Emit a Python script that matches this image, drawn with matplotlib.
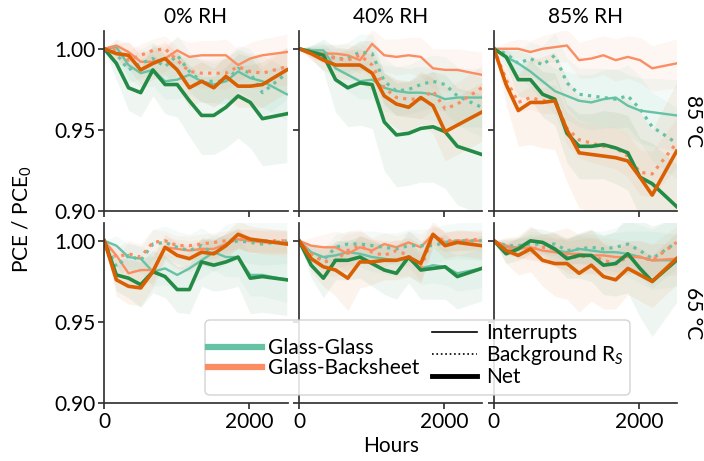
import matplotlib
import matplotlib.pyplot as plt
from matplotlib.lines import Line2D
from matplotlib.patches import FancyBboxPatch

matplotlib.use('agg')

FS = 15
plt.rcParams['font.family'] = ['Lato', 'DejaVu Sans']
plt.rcParams['font.size'] = FS
plt.rcParams['mathtext.fontset'] = 'custom'
plt.rcParams['mathtext.rm'] = 'Lato'
plt.rcParams['mathtext.it'] = 'Lato:italic'

HOURS = [0, 168, 336, 504, 672, 840, 1008, 1176, 1344, 1512, 1680, 1848, 2016, 2184, 2520]
HUMIDITY = ['0% RH', '40% RH', '85% RH']
TEMPERATURE = ['85 °C', '65 °C']

# --- 85 °C, 0% RH ---
gg_int_85_0 = [1.000, 1.001, 0.990, 0.985, 0.987, 0.980, 0.981, 0.984, 0.980, 0.978, 0.980, 0.986, 0.982, 0.980, 0.972]
gg_bg_85_0 = [1.000, 0.997, 0.987, 0.991, 0.994, 0.989, 0.996, 0.986, 0.980, 0.980, 0.980, 0.988, 0.985, 0.973, 0.985]
gg_net_85_0 = [1.000, 0.991, 0.976, 0.973, 0.987, 0.978, 0.978, 0.968, 0.959, 0.959, 0.964, 0.971, 0.967, 0.957, 0.960]
gb_int_85_0 = [1.000, 1.002, 0.998, 0.992, 0.992, 0.994, 0.999, 0.995, 0.996, 0.996, 0.996, 0.990, 0.994, 0.996, 0.998]
gb_bg_85_0 = [1.000, 0.999, 0.993, 0.996, 0.999, 1.000, 0.993, 0.986, 0.985, 0.985, 0.985, 0.989, 0.986, 0.985, 0.989]
gb_net_85_0 = [1.000, 0.997, 0.996, 0.987, 0.991, 0.994, 0.987, 0.976, 0.980, 0.976, 0.983, 0.977, 0.977, 0.978, 0.987]

# --- 85 °C, 40% RH ---
gg_int_85_40 = [1.000, 0.999, 0.999, 0.988, 0.984, 0.980, 0.981, 0.976, 0.974, 0.973, 0.973, 0.972, 0.969, 0.970, 0.970]
gg_bg_85_40 = [1.000, 0.999, 0.998, 0.994, 0.994, 0.998, 0.997, 0.980, 0.974, 0.975, 0.978, 0.980, 0.978, 0.971, 0.964]
gg_net_85_40 = [1.000, 0.998, 0.996, 0.981, 0.976, 0.979, 0.978, 0.955, 0.947, 0.948, 0.951, 0.952, 0.949, 0.940, 0.935]
gb_int_85_40 = [1.000, 0.998, 0.997, 0.997, 0.996, 0.993, 1.003, 0.996, 0.995, 0.996, 0.995, 0.988, 0.987, 0.987, 0.984]
gb_bg_85_40 = [1.000, 0.998, 0.996, 0.994, 0.993, 0.996, 0.990, 0.976, 0.970, 0.969, 0.969, 0.974, 0.963, 0.966, 0.976]
gb_net_85_40 = [1.000, 0.997, 0.993, 0.990, 0.990, 0.990, 0.985, 0.971, 0.966, 0.964, 0.970, 0.965, 0.949, 0.953, 0.961]

# --- 85 °C, 85% RH ---
gg_int_85_85 = [1.000, 0.995, 0.991, 0.986, 0.980, 0.974, 0.971, 0.968, 0.967, 0.969, 0.970, 0.965, 0.962, 0.961, 0.959]
gg_bg_85_85 = [1.000, 0.997, 0.991, 0.994, 0.990, 0.996, 0.979, 0.972, 0.971, 0.970, 0.969, 0.971, 0.963, 0.952, 0.942]
gg_net_85_85 = [1.000, 0.995, 0.981, 0.981, 0.972, 0.969, 0.948, 0.940, 0.940, 0.941, 0.939, 0.936, 0.921, 0.917, 0.903]
gb_int_85_85 = [1.000, 1.000, 1.000, 0.998, 1.000, 1.001, 1.002, 0.993, 0.994, 0.996, 0.993, 0.995, 0.993, 0.988, 0.991]
gb_bg_85_85 = [1.000, 0.981, 0.967, 0.970, 0.968, 0.969, 0.951, 0.944, 0.942, 0.940, 0.939, 0.934, 0.924, 0.923, 0.942]
gb_net_85_85 = [1.000, 0.978, 0.962, 0.967, 0.967, 0.968, 0.950, 0.936, 0.935, 0.934, 0.933, 0.931, 0.921, 0.910, 0.937]

# --- 65 °C, 0% RH ---
gg_int_65_0 = [1.000, 0.997, 0.990, 0.989, 0.981, 0.983, 0.979, 0.983, 0.988, 0.993, 0.990, 0.990, 0.979, 0.979, 0.976]
gg_bg_65_0 = [1.000, 0.984, 0.991, 0.988, 0.998, 0.999, 0.996, 0.994, 0.997, 0.992, 0.998, 1.000, 0.999, 0.998, 1.000]
gg_net_65_0 = [1.000, 0.979, 0.977, 0.973, 0.981, 0.978, 0.970, 0.970, 0.987, 0.985, 0.987, 0.990, 0.977, 0.978, 0.976]
gb_int_65_0 = [1.000, 0.991, 0.980, 0.982, 0.982, 0.996, 0.995, 0.994, 0.995, 0.995, 0.998, 1.001, 1.000, 0.999, 0.999]
gb_bg_65_0 = [1.000, 0.990, 0.992, 0.990, 0.999, 1.000, 0.997, 0.997, 0.998, 0.999, 1.000, 1.001, 1.000, 1.000, 1.000]
gb_net_65_0 = [1.000, 0.976, 0.972, 0.971, 0.981, 0.996, 0.991, 0.989, 0.993, 0.992, 0.997, 1.004, 1.001, 1.000, 0.998]

# --- 65 °C, 40% RH ---
gg_int_65_40 = [1.000, 0.993, 0.990, 0.991, 0.993, 0.992, 0.990, 0.989, 0.988, 0.989, 0.983, 0.985, 0.984, 0.980, 0.983]
gg_bg_65_40 = [1.000, 0.992, 0.988, 0.996, 0.998, 0.998, 0.997, 0.996, 0.995, 0.997, 0.997, 0.997, 0.999, 1.000, 1.000]
gg_net_65_40 = [1.000, 0.985, 0.977, 0.988, 0.988, 0.990, 0.986, 0.982, 0.980, 0.990, 0.982, 0.983, 0.984, 0.978, 0.983]
gb_int_65_40 = [1.000, 0.997, 0.996, 0.996, 0.992, 0.996, 0.994, 0.998, 0.996, 0.999, 0.996, 1.004, 0.999, 1.000, 1.000]
gb_bg_65_40 = [1.000, 0.992, 0.987, 0.988, 0.994, 0.997, 0.993, 0.991, 0.994, 0.991, 0.983, 1.003, 1.000, 1.000, 1.001]
gb_net_65_40 = [1.000, 0.989, 0.984, 0.982, 0.977, 0.987, 0.987, 0.988, 0.988, 0.990, 0.986, 1.004, 0.997, 0.999, 0.997]

# --- 65 °C, 85% RH ---
gg_int_65_85 = [1.000, 0.996, 0.996, 1.000, 0.999, 0.994, 0.993, 0.995, 0.994, 0.993, 0.993, 0.992, 0.990, 0.988, 0.988]
gg_bg_65_85 = [1.000, 0.997, 0.997, 0.998, 0.998, 0.998, 0.994, 0.995, 0.996, 0.995, 0.996, 0.998, 0.994, 0.989, 0.999]
gg_net_65_85 = [1.000, 0.992, 0.995, 1.000, 0.999, 0.995, 0.989, 0.991, 0.991, 0.985, 0.986, 0.992, 0.983, 0.975, 0.988]
gb_int_65_85 = [1.000, 0.997, 0.995, 0.996, 0.994, 0.993, 0.992, 0.992, 0.991, 0.991, 0.990, 0.990, 0.990, 0.988, 0.989]
gb_bg_65_85 = [1.000, 0.995, 0.996, 0.995, 0.996, 0.995, 0.990, 0.990, 0.991, 0.988, 0.986, 0.990, 0.990, 0.988, 0.999]
gb_net_65_85 = [1.000, 0.994, 0.991, 0.995, 0.988, 0.986, 0.986, 0.980, 0.985, 0.978, 0.976, 0.983, 0.979, 0.975, 0.989]

# spread between modules (half width of the shaded bands)
gg_net_sd_85_0 = [0, .010, .014, .015, .016, .018, .020, .022, .024, .024, .025, .026, .028, .029, .030]
gb_net_sd_85_0 = [0, .006, .008, .009, .010, .010, .011, .012, .012, .012, .013, .013, .013, .014, .014]
gg_sd_85_0 = [0, .005, .008, .009, .010, .011, .012, .012, .013, .013, .014, .014, .015, .016, .016]
gb_sd_85_0 = [0, .004, .006, .007, .007, .008, .008, .009, .009, .009, .010, .010, .010, .010, .011]

gg_net_sd_85_40 = [0, .004, .010, .020, .024, .026, .027, .030, .032, .032, .033, .034, .035, .036, .037]
gb_net_sd_85_40 = [0, .004, .006, .008, .009, .010, .011, .014, .015, .016, .016, .017, .018, .018, .018]
gg_sd_85_40 = [0, .003, .005, .008, .010, .011, .012, .014, .015, .015, .016, .016, .017, .018, .018]
gb_sd_85_40 = [0, .003, .005, .006, .007, .008, .009, .010, .011, .011, .012, .012, .013, .013, .014]

gg_net_sd_85_85 = [0, .006, .010, .012, .014, .016, .018, .020, .020, .021, .022, .023, .024, .025, .026]
gb_net_sd_85_85 = [0, .012, .022, .026, .028, .030, .032, .034, .035, .036, .037, .038, .040, .040, .042]
gg_sd_85_85 = [0, .004, .008, .010, .012, .014, .015, .016, .017, .018, .018, .019, .020, .021, .022]
gb_sd_85_85 = [0, .004, .006, .007, .008, .009, .010, .011, .012, .012, .013, .013, .014, .014, .015]

gg_net_sd_65_0 = [0, .010, .012, .014, .013, .013, .014, .015, .015, .016, .017, .018, .022, .022, .022]
gb_net_sd_65_0 = [0, .010, .011, .011, .010, .008, .008, .008, .008, .008, .008, .008, .008, .008, .008]
gg_sd_65_0 = [0, .006, .008, .008, .009, .010, .010, .010, .011, .011, .012, .012, .013, .013, .014]
gb_sd_65_0 = [0, .006, .008, .008, .008, .006, .006, .006, .006, .006, .006, .006, .007, .007, .007]

gg_net_sd_65_40 = [0, .008, .012, .012, .012, .013, .014, .015, .016, .016, .018, .019, .020, .020, .020]
gb_net_sd_65_40 = [0, .008, .012, .016, .020, .016, .014, .012, .012, .012, .012, .008, .008, .008, .008]
gg_sd_65_40 = [0, .005, .007, .008, .008, .008, .009, .009, .010, .010, .010, .011, .011, .011, .012]
gb_sd_65_40 = [0, .005, .008, .010, .012, .010, .008, .007, .007, .007, .008, .006, .006, .006, .006]

gg_net_sd_65_85 = [0, .006, .007, .008, .008, .010, .012, .014, .016, .018, .020, .024, .030, .034, .026]
gb_net_sd_65_85 = [0, .008, .012, .014, .016, .020, .022, .024, .022, .020, .018, .016, .016, .016, .016]
gg_sd_65_85 = [0, .004, .005, .006, .006, .007, .008, .009, .010, .011, .012, .014, .016, .018, .016]
gb_sd_65_85 = [0, .004, .006, .007, .008, .009, .010, .011, .011, .011, .011, .010, .010, .010, .010]

GG_LIGHT, GG_DARK = '#66c2a5', '#238b45'
GB_LIGHT, GB_DARK = '#fc8d62', '#d95f02'


def cell(gg_int, gg_bg, gg_net, gb_int, gb_bg, gb_net, gg_sd, gb_sd, gg_net_sd, gb_net_sd):
    """Series of one panel as (values, spread, colour, kind)."""
    return [
        (gg_int, gg_sd, GG_LIGHT, 'int'), (gb_int, gb_sd, GB_LIGHT, 'int'),
        (gg_bg, gg_sd, GG_LIGHT, 'bg'), (gb_bg, gb_sd, GB_LIGHT, 'bg'),
        (gg_net, gg_net_sd, GG_DARK, 'net'), (gb_net, gb_net_sd, GB_DARK, 'net'),
    ]


# rows: temperature, columns: humidity
panels = [
    [cell(gg_int_85_0, gg_bg_85_0, gg_net_85_0, gb_int_85_0, gb_bg_85_0, gb_net_85_0,
          gg_sd_85_0, gb_sd_85_0, gg_net_sd_85_0, gb_net_sd_85_0),
     cell(gg_int_85_40, gg_bg_85_40, gg_net_85_40, gb_int_85_40, gb_bg_85_40, gb_net_85_40,
          gg_sd_85_40, gb_sd_85_40, gg_net_sd_85_40, gb_net_sd_85_40),
     cell(gg_int_85_85, gg_bg_85_85, gg_net_85_85, gb_int_85_85, gb_bg_85_85, gb_net_85_85,
          gg_sd_85_85, gb_sd_85_85, gg_net_sd_85_85, gb_net_sd_85_85)],
    [cell(gg_int_65_0, gg_bg_65_0, gg_net_65_0, gb_int_65_0, gb_bg_65_0, gb_net_65_0,
          gg_sd_65_0, gb_sd_65_0, gg_net_sd_65_0, gb_net_sd_65_0),
     cell(gg_int_65_40, gg_bg_65_40, gg_net_65_40, gb_int_65_40, gb_bg_65_40, gb_net_65_40,
          gg_sd_65_40, gb_sd_65_40, gg_net_sd_65_40, gb_net_sd_65_40),
     cell(gg_int_65_85, gg_bg_65_85, gg_net_65_85, gb_int_65_85, gb_bg_65_85, gb_net_65_85,
          gg_sd_65_85, gb_sd_65_85, gg_net_sd_65_85, gb_net_sd_65_85)],
]

STYLE = {'int': dict(ls='-', lw=1.7), 'bg': dict(ls=':', lw=2.3), 'net': dict(ls='-', lw=2.6)}

fig, axes = plt.subplots(2, 3, sharex=True, sharey=True, figsize=(7.04, 4.61), dpi=100)
fig.subplots_adjust(left=0.148, right=0.962, top=0.933, bottom=0.125, wspace=0.063, hspace=0.064)

for r in range(2):
    for c in range(3):
        ax = axes[r, c]
        for vals, sd, color, kind in panels[r][c]:
            lo = [v - s for v, s in zip(vals, sd)]
            hi = [v + s for v, s in zip(vals, sd)]
            ax.fill_between(HOURS, lo, hi, color=color, alpha=0.07, lw=0)
        for vals, sd, color, kind in panels[r][c]:
            ax.plot(HOURS, vals, color=color, **STYLE[kind])
        for side in ('top', 'right'):
            ax.spines[side].set_visible(False)
        for side in ('left', 'bottom'):
            ax.spines[side].set_color('#333333')
            ax.spines[side].set_linewidth(1.25)
        ax.tick_params(direction='out', length=4, width=1.25, color='#333333', pad=2)
        if r == 0:
            ax.set_title(HUMIDITY[c], fontsize=FS, pad=6)
    fig.text(0.985, 0.737 if r == 0 else 0.321, TEMPERATURE[r], rotation=-90,
             ha='center', va='center', fontsize=FS)

axes[0, 0].set_xlim(0, 2530)
axes[0, 0].set_ylim(0.9, 1.011)
axes[0, 0].set_xticks([0, 2000])
axes[0, 0].set_yticks([0.90, 0.95, 1.00])
axes[0, 0].set_yticklabels(['0.90', '0.95', '1.00'])

fig.text(0.032, 0.525, 'PCE / PCE$_0$', rotation=90, ha='center', va='center', fontsize=FS)
fig.text(0.556, 0.033, 'Hours', ha='center', va='center', fontsize=FS)

# shared legend box: colours on the left, line styles on the right
frame = FancyBboxPatch((2.05, 0.66), 4.25, 0.75, boxstyle='round,pad=0,rounding_size=0.05',
                       transform=fig.dpi_scale_trans, facecolor='white', edgecolor='#cccccc',
                       lw=1.0, alpha=0.85, zorder=4)
fig.add_artist(frame)

color_handles = [Line2D([], [], color=GG_LIGHT, lw=4.5), Line2D([], [], color=GB_LIGHT, lw=4.5)]
leg1 = fig.legend(color_handles, ['Glass-Glass', 'Glass-Backsheet'], loc='center left',
                  bbox_to_anchor=(0.296, 0.223), frameon=False, handlelength=2.55,
                  handletextpad=0.3, labelspacing=0.0, borderpad=0, borderaxespad=0, fontsize=FS)
style_handles = [Line2D([], [], color='black', lw=1.2, ls='-'),
                 Line2D([], [], color='black', lw=1.2, ls=':'),
                 Line2D([], [], color='black', lw=3.5, ls='-')]
leg2 = fig.legend(style_handles, ['Interrupts', 'Background R$_S$', 'Net'], loc='center left',
                  bbox_to_anchor=(0.613, 0.230), frameon=False, handlelength=2.2,
                  handletextpad=0.42, labelspacing=0.0, borderpad=0, borderaxespad=0, fontsize=FS)
leg1.set_zorder(5)
leg2.set_zorder(5)

fig.savefig('out.png', dpi=100)
